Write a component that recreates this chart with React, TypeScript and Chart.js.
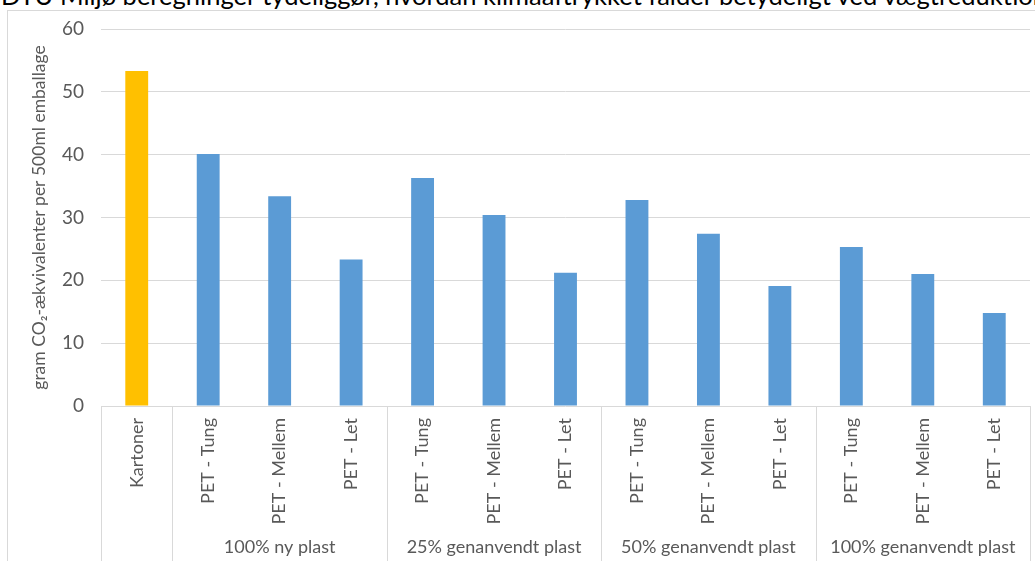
import React, { useEffect, useRef } from "react";
import { Chart, registerables } from "chart.js";

Chart.register(...registerables);

// Emballagetyper (x-akse) og grupper af plasttyper
const categories = [
  "Kartoner",
  "PET - Tung", "PET - Mellem", "PET - Let",
  "PET - Tung", "PET - Mellem", "PET - Let",
  "PET - Tung", "PET - Mellem", "PET - Let",
  "PET - Tung", "PET - Mellem", "PET - Let",
];
const groupLabels = ["", "100% ny plast", "25% genanvendt plast", "50% genanvendt plast", "100% genanvendt plast"];
const groupSizes = [1, 3, 3, 3, 3];

// gram CO2-ækvivalenter per 500 ml emballage
const values = [53.3, 40.1, 33.4, 23.3, 36.3, 30.4, 21.2, 32.8, 27.4, 19.1, 25.3, 21.0, 14.8];
const barColors = [
  "#FFC000",
  "#5B9BD5", "#5B9BD5", "#5B9BD5",
  "#5B9BD5", "#5B9BD5", "#5B9BD5",
  "#5B9BD5", "#5B9BD5", "#5B9BD5",
  "#5B9BD5", "#5B9BD5", "#5B9BD5",
];
const yMin = 0;
const yMax = 60;
const yStep = 10;

const headline = "DTU Miljø beregninger tydeliggør, hvordan klimaaftrykket falder betydeligt ved vægtreduktion";
const yTitle = "gram CO₂-ækvivalenter per 500ml emballage";

const FONT = "Lato, 'Open Sans', sans-serif";
const TEXT = "#595959";
const LINE = "#D9D9D9";

// Skillelinjer og gruppenavne under x-aksen
const groupPlugin = {
  id: "groupLabels",
  afterDraw(chart: any) {
    const { ctx, chartArea } = chart;
    const x = chart.scales.x;
    const half = (x.getPixelForTick(1) - x.getPixelForTick(0)) / 2;
    ctx.save();
    ctx.strokeStyle = LINE;
    ctx.lineWidth = 1;
    ctx.fillStyle = TEXT;
    ctx.font = `18px ${FONT}`;
    ctx.textAlign = "center";
    ctx.textBaseline = "middle";
    let start = 0;
    groupSizes.forEach((size, g) => {
      const left = x.getPixelForTick(start) - half;
      const right = x.getPixelForTick(start + size - 1) + half;
      [left, right].forEach((px) => {
        const cx = Math.round(px) + 0.5;
        ctx.beginPath();
        ctx.moveTo(cx, chartArea.bottom);
        ctx.lineTo(cx, chart.height);
        ctx.stroke();
      });
      if (groupLabels[g]) {
        ctx.fillText(groupLabels[g], (left + right) / 2, chart.height - 14);
      }
      start += size;
    });
    ctx.restore();
  },
};

export default function App() {
  const canvasRef = useRef<HTMLCanvasElement | null>(null);

  useEffect(() => {
    const canvas = canvasRef.current;
    if (!canvas) return;
    const chart = new Chart(canvas, {
      type: "bar",
      data: {
        labels: categories,
        datasets: [
          {
            data: values,
            backgroundColor: barColors,
            borderWidth: 0,
            barPercentage: 0.32,
            categoryPercentage: 1,
          },
        ],
      },
      options: {
        responsive: false,
        animation: false,
        layout: { padding: { top: 18, right: 5, left: 0, bottom: 0 } },
        plugins: {
          legend: { display: false },
          tooltip: { enabled: false },
          title: { display: false },
        },
        scales: {
          x: {
            grid: { display: false, drawTicks: false },
            border: { display: false },
            ticks: {
              autoSkip: false,
              minRotation: 90,
              maxRotation: 90,
              padding: 12,
              color: TEXT,
              font: { family: FONT, size: 18 },
            },
            afterFit: (scale: any) => {
              scale.height = 155;
            },
          },
          y: {
            min: yMin,
            max: yMax,
            grid: {
              color: LINE,
              lineWidth: 1,
              drawTicks: true,
              tickLength: 17,
              tickColor: "rgba(0,0,0,0)",
            },
            border: { display: false },
            ticks: {
              stepSize: yStep,
              padding: 0,
              color: TEXT,
              font: { family: FONT, size: 19 },
            },
            title: {
              display: true,
              text: yTitle,
              color: TEXT,
              font: { family: FONT, size: 17.5 },
              padding: { top: 21, bottom: 0 },
            },
            afterFit: (scale: any) => {
              scale.width = 93;
            },
          },
        },
      },
      plugins: [groupPlugin],
    });
    return () => chart.destroy();
  }, []);

  return (
    <div
      style={{
        position: "absolute",
        left: 0,
        top: 0,
        width: 1035,
        height: 561,
        overflow: "hidden",
        background: "#fff",
      }}
    >
      <div
        style={{
          position: "absolute",
          left: 1,
          top: -19,
          whiteSpace: "nowrap",
          fontFamily: FONT,
          fontSize: 25.5,
          lineHeight: "28px",
          color: "#000",
        }}
      >
        {headline}
      </div>
      <div
        style={{
          position: "absolute",
          left: 7,
          top: 10,
          width: 1040,
          height: 560,
          borderLeft: `1px solid ${LINE}`,
          borderTop: `1px solid ${LINE}`,
        }}
      />
      <canvas
        ref={canvasRef}
        width={1027}
        height={550}
        style={{ position: "absolute", left: 8, top: 11, width: 1027, height: 550 }}
      />
    </div>
  );
}
